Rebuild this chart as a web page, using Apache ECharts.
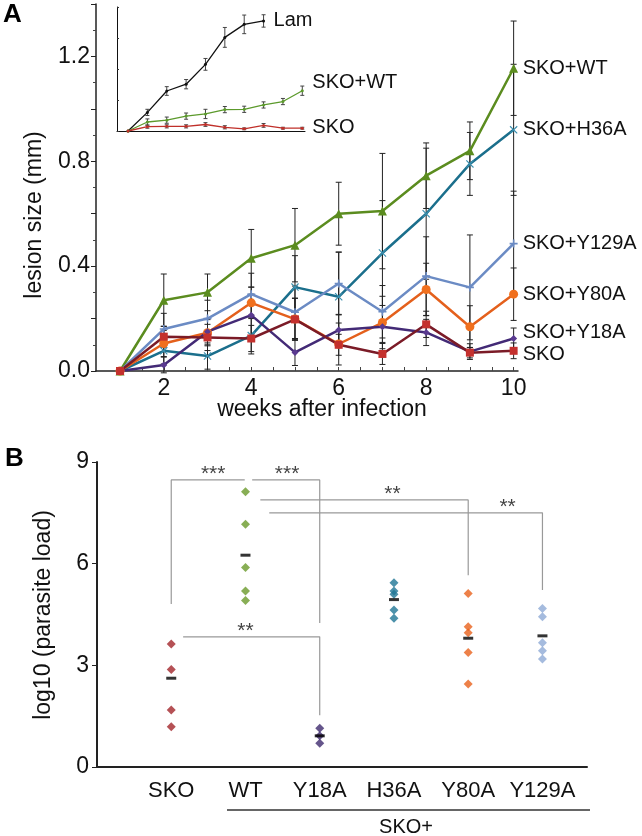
<!DOCTYPE html>
<html>
<head>
<meta charset="utf-8">
<script src="https://cdn.jsdelivr.net/npm/echarts@6/dist/echarts.min.js"></script>
<style>
  html, body { margin: 0; padding: 0; background: #fff; }
  #main { width: 642px; height: 836px; }
</style>
</head>
<body>
<div id="main"></div>
<script>
// ---- panel A: lesion size (mm) by week ----
var weeks = [1, 2, 3, 4, 5, 6, 7, 8, 9, 10];
var wtMean    = [0, 0.27, 0.30, 0.43, 0.48, 0.60, 0.61, 0.745, 0.84, 1.155];
var wtErr     = [0, 0.10, 0.07, 0.11, 0.14, 0.12, 0.22, 0.125, 0.11, 0.18];
var h36aMean  = [0, 0.077, 0.057, 0.135, 0.32, 0.283, 0.45, 0.60, 0.79, 0.92];
var h36aErr   = [0, 0.05, 0.05, 0.07, 0.12, 0.17, 0.2, 0.25, 0.12, 0.25];
var y129aMean = [0, 0.16, 0.20, 0.293, 0.224, 0.334, 0.226, 0.362, 0.319, 0.486];
var y129aErr  = [0, 0.06, 0.07, 0.08, 0.1, 0.12, 0.1, 0.15, 0.2, 0.2];
var y80aMean  = [0, 0.105, 0.146, 0.26, 0.198, 0.103, 0.185, 0.311, 0.169, 0.293];
var y80aErr   = [0, 0.05, 0.05, 0.06, 0.08, 0.08, 0.1, 0.1, 0.08, 0.1];
var y18aMean  = [0, 0.023, 0.15, 0.213, 0.071, 0.156, 0.169, 0.147, 0.074, 0.124];
var y18aErr   = [0, 0.03, 0.05, 0.08, 0.05, 0.06, 0.06, 0.05, 0.03, 0.04];
var skoMean   = [0, 0.131, 0.128, 0.124, 0.197, 0.10, 0.065, 0.178, 0.07, 0.077];
var skoErr    = [0, 0.04, 0.05, 0.05, 0.08, 0.04, 0.04, 0.05, 0.02, 0.03];
var weekLabels = [2, 4, 6, 8, 10];
var lesionLabels = [0, 0.4, 0.8, 1.2];

// inset (arbitrary units, Lam vs SKO+WT vs SKO)
var lamInset    = [0, 0.60, 1.29, 1.51, 2.15, 3.02, 3.44, 3.55];
var lamInsetErr = [0, 0.10, 0.14, 0.15, 0.19, 0.32, 0.30, 0.20];
var wtInset     = [0, 0.29, 0.35, 0.48, 0.55, 0.69, 0.70, 0.84, 0.95, 1.30];
var wtInsetErr  = [0, 0.10, 0.10, 0.10, 0.15, 0.10, 0.10, 0.10, 0.10, 0.15];
var skoInset    = [0, 0.14, 0.15, 0.15, 0.21, 0.12, 0.07, 0.18, 0.09, 0.09];
var skoInsetErr = [0, 0.05, 0.05, 0.05, 0.06, 0.05, 0.03, 0.06, 0.03, 0.03];

// ---- panel B: log10 parasite load ----
var groups = ['SKO', 'WT', 'Y18A', 'H36A', 'Y80A', 'Y129A'];
var loadSKO   = [3.63, 2.88, 1.68, 1.19];
var loadWT    = [8.12, 7.16, 5.89, 5.19, 4.91];
var loadY18A  = [1.14, 0.92, 0.70];
var loadH36A  = [5.44, 5.19, 5.10, 4.63, 4.39];
var loadY80A  = [5.12, 4.14, 3.96, 3.38, 2.45];
var loadY129A = [4.68, 4.43, 3.67, 3.43, 3.19];
var loadMean  = [2.62, 6.25, 0.92, 4.94, 3.80, 3.87];

// significance brackets (group position, log10 value)
var brackets = [
  [[0, 4.81], [0, 8.47], [0.99, 8.47]],
  [[1.09, 8.47], [2, 8.47], [2, 4.25]],
  [[1.2, 7.88], [4, 7.88], [4, 5.66]],
  [[1.32, 7.5], [5, 7.5], [5, 5.22]],
  [[0.16, 3.84], [2, 3.84], [2, 1.53]]
];
var starPos = [[0.565, 8.47], [1.56, 8.47], [2.98, 7.88], [4.53, 7.5], [1.0, 3.84]];
var starText = ['***', '***', '**', '**', '**'];

var FONT = 'Liberation Sans, Arial, sans-serif';
var chart = echarts.init(document.getElementById('main'));

// 误差棒
function errorBars(xi, means, errs, color, cap) {
  var d = [];
  for (var i = 0; i < means.length; i++) {
    if (errs[i] > 0) d.push([weeks[i], means[i] - errs[i], means[i] + errs[i]]);
  }
  return {
    type: 'custom', xAxisIndex: xi, yAxisIndex: xi, silent: true, z: 1,
    data: d,
    encode: { x: 0, y: [1, 2] },
    renderItem: function (params, api) {
      var lo = api.coord([api.value(0), api.value(1)]);
      var hi = api.coord([api.value(0), api.value(2)]);
      var st = { stroke: color, lineWidth: 1 };
      return {
        type: 'group',
        children: [
          { type: 'line', shape: { x1: lo[0], y1: lo[1], x2: hi[0], y2: hi[1] }, style: st },
          { type: 'line', shape: { x1: lo[0] - cap, y1: lo[1], x2: lo[0] + cap, y2: lo[1] }, style: st },
          { type: 'line', shape: { x1: hi[0] - cap, y1: hi[1], x2: hi[0] + cap, y2: hi[1] }, style: st }
        ]
      };
    }
  };
}

function pair(vals) {
  return vals.map(function (v, i) { return [weeks[i], v]; });
}

function mainLine(name, vals, lineColor, markColor, symbol, size, dy) {
  return {
    type: 'line', name: name, xAxisIndex: 0, yAxisIndex: 0, z: 3,
    data: pair(vals),
    symbol: symbol, symbolSize: size,
    lineStyle: { color: lineColor, width: 2.5 },
    itemStyle: { color: markColor },
    endLabel: { show: true, formatter: name, distance: 9, offset: [0, dy],
      fontSize: 20, color: '#111', fontFamily: FONT }
  };
}

function insetLine(name, vals, color, dy) {
  return {
    type: 'line', name: name, xAxisIndex: 1, yAxisIndex: 1, z: 3,
    data: pair(vals),
    symbol: 'circle', symbolSize: 3,
    lineStyle: { color: color, width: 1.3 },
    itemStyle: { color: color },
    endLabel: { show: true, formatter: name, distance: 10, offset: [0, dy],
      fontSize: 20, color: '#111', fontFamily: FONT }
  };
}

function groupPoints(gi, vals, color) {
  return {
    type: 'scatter', xAxisIndex: 2, yAxisIndex: 2, z: 3,
    data: vals.map(function (v) { return [gi, v]; }),
    symbol: 'diamond', symbolSize: [9, 9],
    itemStyle: { color: color }
  };
}

var xMark = 'path://M0,1L1,0L5,4L9,0L10,1L6,5L10,9L9,10L5,6L1,10L0,9L4,5Z';
var plusMark = 'path://M4,0H6V4H10V6H6V10H4V6H0V4H4Z';

var series = [
  errorBars(0, wtMean, wtErr, '#222', 3),
  errorBars(0, h36aMean, h36aErr, '#222', 3),
  errorBars(0, y129aMean, y129aErr, '#222', 3),
  errorBars(0, y80aMean, y80aErr, '#222', 3),
  errorBars(0, y18aMean, y18aErr, '#222', 3),
  errorBars(0, skoMean, skoErr, '#222', 3),
  mainLine('SKO+WT', wtMean, '#5b8c1f', '#5b8c1f', 'triangle', 9, 0),
  mainLine('SKO+H36A', h36aMean, '#1b6f8c', '#3a8fae', xMark, 8, 0),
  mainLine('SKO+Y129A', y129aMean, '#6b8bc4', '#6b8bc4', plusMark, 8, 0),
  mainLine('SKO+Y80A', y80aMean, '#e4601c', '#f0701e', 'circle', 9, 0),
  mainLine('SKO+Y18A', y18aMean, '#432a76', '#5a3a90', 'diamond', 7, -6),
  mainLine('SKO', skoMean, '#7b1b27', '#c4312e', 'rect', 8, 4),
  errorBars(1, lamInset, lamInsetErr, '#444', 2),
  errorBars(1, wtInset, wtInsetErr, '#444', 2),
  errorBars(1, skoInset, skoInsetErr, '#444', 2),
  insetLine('Lam', lamInset, '#111', 0),
  insetLine('SKO+WT', wtInset, '#5c9a2c', -8),
  insetLine('SKO', skoInset, '#c0302a', -1),
  groupPoints(0, loadSKO, '#a3252a'),
  groupPoints(1, loadWT, '#6a9a2a'),
  groupPoints(2, loadY18A, '#3e2a6e'),
  groupPoints(3, loadH36A, '#1f7595'),
  groupPoints(4, loadY80A, '#e8611c'),
  groupPoints(5, loadY129A, '#8eaad6'),
  {
    type: 'scatter', xAxisIndex: 2, yAxisIndex: 2, z: 4,
    data: loadMean.map(function (v, i) { return [i, v]; }),
    symbol: 'rect', symbolSize: [10, 3],
    itemStyle: { color: '#000' }
  },
  {
    type: 'scatter', xAxisIndex: 2, yAxisIndex: 2, z: 4, silent: true,
    data: starPos.map(function (p, i) { return { value: p, name: starText[i] }; }),
    symbolSize: 0,
    label: { show: true, position: 'top', distance: -5, formatter: '{b}',
      fontSize: 21, color: '#111', fontFamily: FONT }
  }
];

brackets.forEach(function (b) {
  series.push({
    type: 'line', xAxisIndex: 2, yAxisIndex: 2, z: 2, silent: true,
    data: b, symbol: 'none',
    lineStyle: { color: '#999', width: 1.2 }
  });
});

chart.setOption({
  animation: false,
  textStyle: { fontFamily: FONT },
  grid: [
    { left: 96, top: 4, width: 422, height: 367 },
    { left: 117, top: 7, width: 188, height: 124 },
    { left: 97, top: 462, width: 490, height: 305 }
  ],
  xAxis: [
    {
      gridIndex: 0, type: 'value', min: 0.45, max: 10.1,
      axisLine: { onZero: false, lineStyle: { color: '#222', width: 1.5 } },
      axisTick: { show: true, inside: true, length: 4, customValues: [1, 1.5, 2, 2.5, 3, 3.5, 4, 4.5, 5, 5.5, 6, 6.5, 7, 7.5, 8, 8.5, 9, 9.5, 10],
        lineStyle: { color: '#444' } },
      axisLabel: { customValues: weekLabels, fontSize: 23, color: '#111', margin: 6 },
      splitLine: { show: false }
    },
    {
      gridIndex: 1, type: 'value', min: 0.43, max: 10.14,
      axisLine: { onZero: false, lineStyle: { color: '#111', width: 1 } },
      axisTick: { show: false }, axisLabel: { show: false }, splitLine: { show: false }
    },
    {
      gridIndex: 2, type: 'value', min: -1, max: 5.6,
      axisLine: { onZero: false, lineStyle: { color: '#222', width: 2 } },
      axisTick: { show: false },
      axisLabel: { customValues: [0, 1, 2, 3, 4, 5], fontSize: 22, color: '#111', margin: 13,
        formatter: function (v) { return groups[v] || ''; } },
      splitLine: { show: false }
    }
  ],
  yAxis: [
    {
      gridIndex: 0, type: 'value', min: 0, max: 1.4, interval: 0.2,
      axisLine: { show: true, onZero: false, lineStyle: { color: '#222', width: 1.5 } },
      axisTick: { show: true, length: 5, lineStyle: { color: '#222' } },
      minorTick: { show: true, splitNumber: 2, length: 3, lineStyle: { color: '#444' } },
      axisLabel: { customValues: lesionLabels, fontSize: 23, color: '#111', margin: 6,
        formatter: function (v) { return v.toFixed(1); } },
      splitLine: { show: false }
    },
    {
      gridIndex: 1, type: 'value', min: 0, max: 4, interval: 1,
      axisLine: { show: true, onZero: false, lineStyle: { color: '#111', width: 1 } },
      axisTick: { show: true, inside: true, length: 2, lineStyle: { color: '#333' } },
      axisLabel: { show: false }, splitLine: { show: false }
    },
    {
      gridIndex: 2, type: 'value', min: 0, max: 9, interval: 3,
      axisLine: { show: true, onZero: false, lineStyle: { color: '#222', width: 2 } },
      axisTick: { show: true, length: 5, lineStyle: { color: '#222' } },
      axisLabel: { fontSize: 23, color: '#111', margin: 8 },
      splitLine: { show: false }
    }
  ],
  graphic: [
    { type: 'text', left: 3, top: 2, style: { text: 'A', font: 'bold 26px ' + FONT, fill: '#000' } },
    { type: 'text', left: 5, top: 446, style: { text: 'B', font: 'bold 26px ' + FONT, fill: '#000' } },
    { type: 'text', x: 35, y: 215, rotation: Math.PI / 2,
      style: { text: 'lesion size (mm)', font: '23px ' + FONT, fill: '#111', textAlign: 'center', textVerticalAlign: 'middle' } },
    { type: 'text', x: 322, y: 410,
      style: { text: 'weeks after infection', font: '23px ' + FONT, fill: '#111', textAlign: 'center', textVerticalAlign: 'middle' } },
    { type: 'text', x: 44, y: 615, rotation: Math.PI / 2,
      style: { text: 'log10 (parasite load)', font: '23px ' + FONT, fill: '#111', textAlign: 'center', textVerticalAlign: 'middle' } },
    { type: 'line', shape: { x1: 227, y1: 810, x2: 590, y2: 810 }, style: { stroke: '#333', lineWidth: 1.5 } },
    { type: 'text', x: 406, y: 827,
      style: { text: 'SKO+', font: '20px ' + FONT, fill: '#111', textAlign: 'center', textVerticalAlign: 'middle' } }
  ],
  series: series
});
</script>
</body>
</html>
